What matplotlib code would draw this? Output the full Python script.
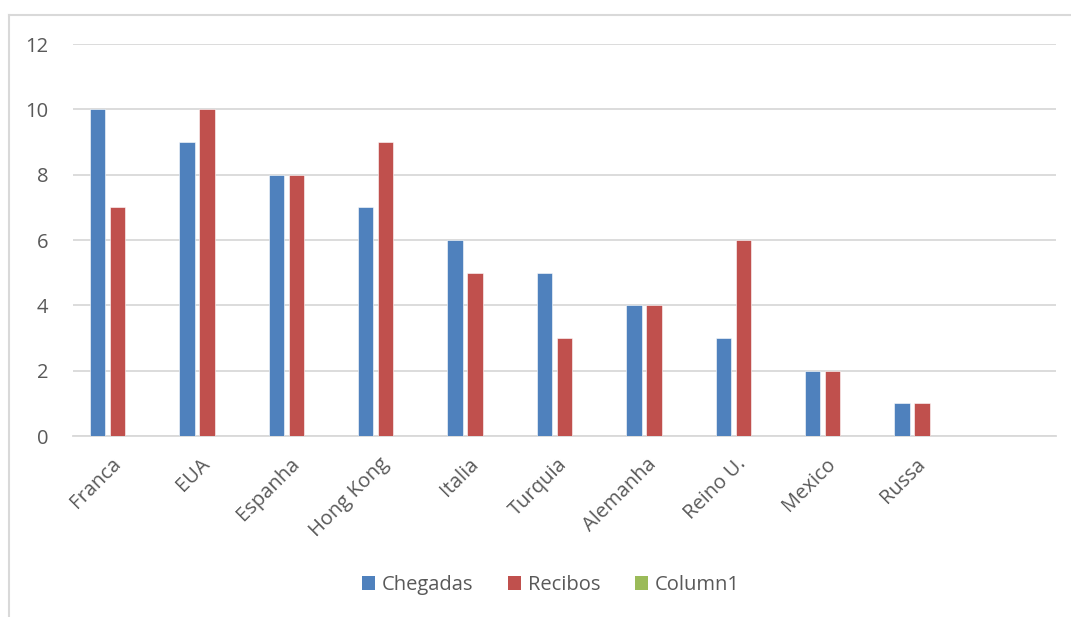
import matplotlib.pyplot as plt
import numpy as np
from matplotlib.patches import Patch
from matplotlib.lines import Line2D

plt.rcParams['font.family'] = ['Open Sans', 'DejaVu Sans']

# Data (last category slot is empty in the original)
categories = ["Franca", "EUA", "Espanha", "Hong Kong", "Italia", "Turquia",
              "Alemanha", "Reino U.", "Mexico", "Russa", ""]
chegadas = [10, 9, 8, 7, 6, 5, 4, 3, 2, 1, 0]
recibos = [7, 10, 8, 9, 5, 3, 4, 6, 2, 1, 0]
column1 = [0, 0, 0, 0, 0, 0, 0, 0, 0, 0, 0]

series = [("Chegadas", chegadas, "#4F81BD"),
          ("Recibos", recibos, "#C0504D"),
          ("Column1", column1, "#9BBB59")]

text_color = "#595959"
grid_color = "#D9D9D9"
W, H = 1071, 617

fig = plt.figure(figsize=(W / 100, H / 100), dpi=100)
# chart area border (only top and left edges visible in the crop)
fig.lines.append(Line2D([8.5 / W, 1], [1 - 14.5 / H, 1 - 14.5 / H],
                        transform=fig.transFigure, color=grid_color, linewidth=1.5))
fig.lines.append(Line2D([8.5 / W, 8.5 / W], [0, 1 - 14.5 / H],
                        transform=fig.transFigure, color=grid_color, linewidth=1.5))

ax = fig.add_axes([73 / W, 1 - 436 / H, 983 / W, 392 / H])

x = np.arange(len(categories))
slot = 0.224
width = 0.172
for i, (name, vals, color) in enumerate(series):
    ax.bar(x + (i - 1) * slot, vals, width, color=color, label=name,
           edgecolor="white", linewidth=0.4, zorder=3)

ax.set_xlim(-0.5, len(categories) - 0.5)
ax.set_ylim(0, 12)
ax.set_yticks(range(0, 13, 2))
ax.yaxis.grid(True, color=grid_color, linewidth=1.3, zorder=0)
ax.set_xticks(x)
ax.set_xticklabels(categories, rotation=45, ha="right", va="center",
                   rotation_mode="anchor")
ax.tick_params(axis="both", length=0, labelsize=14.5, colors=text_color)
ax.tick_params(axis="x", pad=18)
ax.tick_params(axis="y", pad=18)

for side in ["top", "right", "left"]:
    ax.spines[side].set_visible(False)
ax.spines["bottom"].set_color(grid_color)
ax.spines["bottom"].set_linewidth(1.3)

handles = [Patch(facecolor=c, label=n) for n, _, c in series]
fig.legend(handles=handles, loc="center", bbox_to_anchor=(551 / W, 1 - 585 / H),
           ncol=3, frameon=False, fontsize=14.5, labelcolor=text_color,
           handlelength=0.65, handleheight=0.65, handletextpad=0.35,
           columnspacing=1.7)

plt.savefig("out.png", dpi=100)
